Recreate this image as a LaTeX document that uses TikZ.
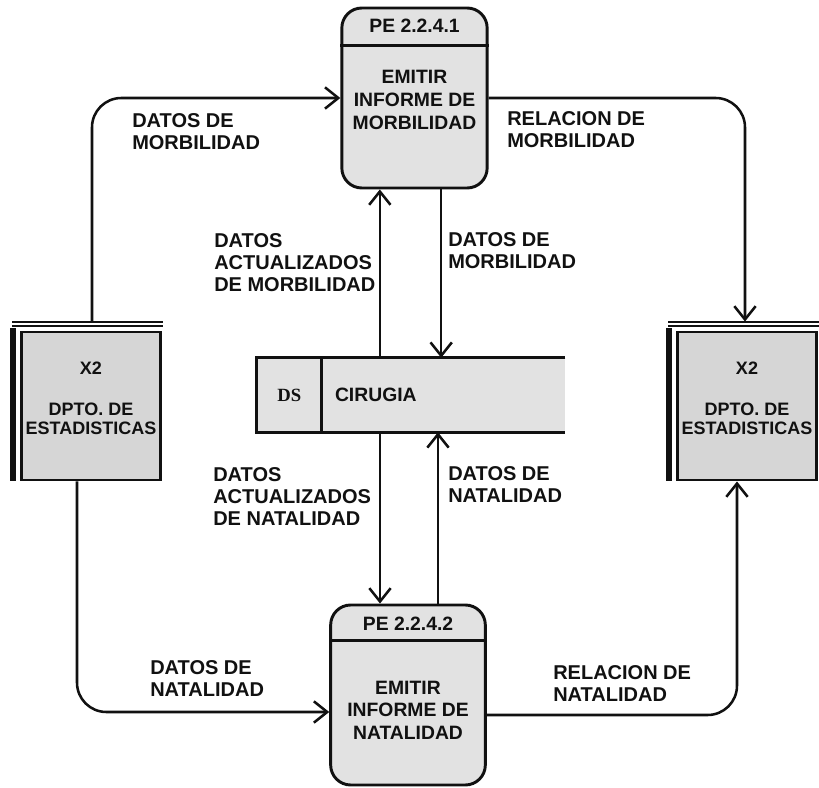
\documentclass[tikz,border=0pt]{standalone}
\usepackage{fontspec}
\setmainfont{Liberation Sans}
\newfontfamily\dsfont{Liberation Serif}
\usetikzlibrary{positioning,arrows.meta,calc}
\definecolor{procfill}{HTML}{E2E2E2}
\definecolor{storefill}{HTML}{D6D6D6}
\definecolor{ink}{HTML}{111111}

\begin{document}
\begin{tikzpicture}[
  x=0.75pt, y=-0.75pt, >=Stealth,
  edge/.style={draw=ink, line width=2.2pt},
  proc/.style={edge, fill=procfill, rounded corners=15pt, minimum height=135pt, inner sep=0pt},
  ext/.style={edge, fill=storefill, minimum width=104pt, minimum height=111pt, inner sep=0pt},
  dstore/.style={fill=procfill, minimum width=231pt, minimum height=55.5pt, inner sep=0pt},
  ptxt/.style={align=center, inner sep=0pt, text=ink, font=\bfseries\fontsize{14.5}{17}\selectfont},
  etxt/.style={align=center, inner sep=0pt, text=ink, font=\bfseries\fontsize{13.5}{14.5}\selectfont},
  lbl/.style={align=left, anchor=west, inner sep=0pt, text=ink, font=\bfseries\fontsize{15}{16.5}\selectfont},
  flow/.style={-{Straight Barb[length=10pt,width=16pt]}, line width=1.9pt, draw=ink},
]
\useasboundingbox (0,0) rectangle (819,788);

% ===== processes =====
\node[proc, minimum width=109pt] (p1) at (414.5,98) {};
\draw[edge] ([yshift=-29.25pt]p1.north west) -- ([yshift=-29.25pt]p1.north east);
\node[ptxt] (p1id)  at ([yshift=-14.5pt]p1.north) {PE 2.2.4.1};
\node[ptxt] (p1txt) at ([yshift=-70pt]p1.north) {EMITIR\\INFORME DE\\MORBILIDAD};

\node[proc, minimum width=116pt] (p2) at (408,695) {};
\draw[edge] ([yshift=-27.75pt]p2.north west) -- ([yshift=-27.75pt]p2.north east);
\node[ptxt] (p2id)  at ([yshift=-15pt]p2.north) {PE 2.2.4.2};
\node[ptxt] (p2txt) at ([yshift=-80pt]p2.north) {EMITIR\\INFORME DE\\NATALIDAD};

% ===== data store =====
\node[dstore] (cir) at (411,395) {};
\draw[edge] (cir.north east) -- (cir.north west) -- (cir.south west) -- (cir.south east);
\draw[edge] ([xshift=48.75pt]cir.north west) -- ([xshift=48.75pt]cir.south west);
\node[ptxt, font=\dsfont\bfseries\fontsize{14}{17}\selectfont] (dsid) at ([xshift=24.5pt]cir.west) {DS};
\node[ptxt, anchor=west] (cirname) at ([xshift=58.5pt]cir.west) {CIRUGIA};

% ===== external entities (doubled top and left edge) =====
\foreach \e/\cx in {s1/91, s2/747} {
  \node[ext] (\e) at (\cx,406) {};
  \draw[edge, line width=1.5pt] ([shift={(-8,-9)}]\e.north west) -- ([shift={(1,-9)}]\e.north east);
  \draw[edge, line width=1.5pt] ([shift={(-8,-5)}]\e.north west) -- ([shift={(1,-5)}]\e.north east);
  \fill[ink] ([shift={(-10,-3)}]\e.north west) rectangle ([shift={(-4,0)}]\e.south west);
  \node[etxt] (\e id) at ([yshift=-28pt]\e.north) {X2};
  \node[etxt] (\e txt) at ([yshift=-66pt]\e.north) {DPTO. DE\\ESTADISTICAS};
}

% ===== flows =====
\draw[flow, rounded corners=22pt] ([shift={(1,-9)}]s1.north) |- (p1.west);
\draw[flow, rounded corners=22pt] (p1.east) -| ([shift={(-2,-9)}]s2.north);
\draw[flow] ([xshift=-26pt]p1.south |- cir.north) -- ([xshift=-26pt]p1.south);
\draw[flow] ([xshift=20pt]p1.south) -- ([xshift=20pt]p1.south |- cir.north);
\draw[flow] ([xshift=-21pt]p2.north |- cir.south) -- ([xshift=-21pt]p2.north);
\draw[flow] ([xshift=22.5pt]p2.north) -- ([xshift=22.5pt]p2.north |- cir.south);
\draw[flow, rounded corners=22pt] ([shift={(-14,0)}]s1.south) |- ([shift={(0,17)}]p2.west);
\draw[flow, rounded corners=22pt] ([shift={(0,20)}]p2.east) -| ([shift={(-10,0)}]s2.south);

% ===== flow labels =====
\node[lbl] (lmorb)  at (132,132) {DATOS DE\\MORBILIDAD};
\node[lbl] (lrmorb) at (507,130) {RELACION DE\\MORBILIDAD};
\node[lbl] (lamorb) at (214,263) {DATOS\\ACTUALIZADOS\\DE MORBILIDAD};
\node[lbl] (ldmorb) at (448,251) {DATOS DE\\MORBILIDAD};
\node[lbl] (lanat)  at (213,497) {DATOS\\ACTUALIZADOS\\DE NATALIDAD};
\node[lbl] (ldnat)  at (448,485) {DATOS DE\\NATALIDAD};
\node[lbl] (lnat)   at (150,679) {DATOS DE\\NATALIDAD};
\node[lbl] (lrnat)  at (553,684) {RELACION DE\\NATALIDAD};

\end{tikzpicture}
\end{document}
